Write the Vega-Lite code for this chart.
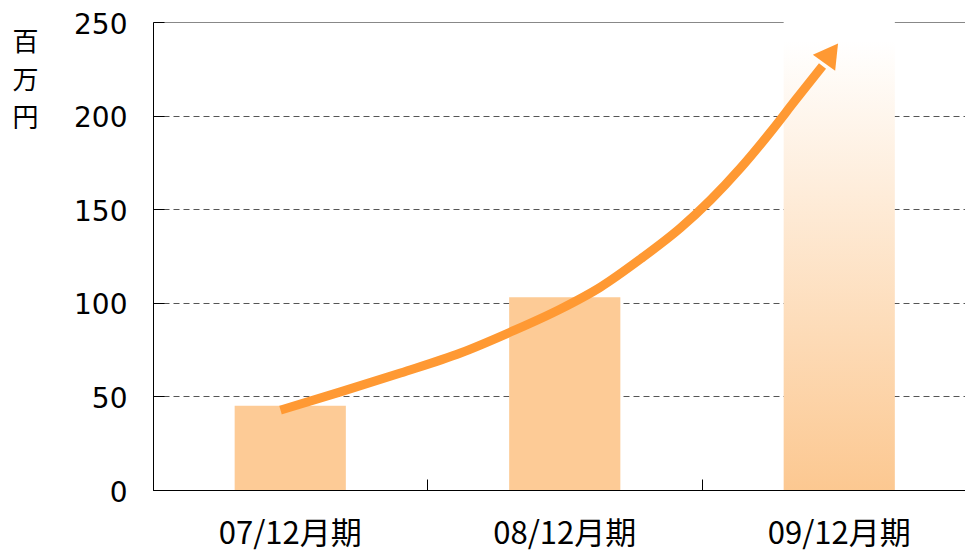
{
  "$schema": "https://vega.github.io/schema/vega-lite/v6.json",
  "width": 812,
  "height": 468,
  "autosize": "none",
  "padding": {"left": 153, "top": 22, "right": 0, "bottom": 61},
  "background": "white",
  "config": {"view": {"stroke": null}},
  "datasets": {
    "bars": [
      {"period": "07/12月期", "value": 45},
      {"period": "08/12月期", "value": 103},
      {"period": "09/12月期", "value": 250}
    ],
    "arrow": [
      {"pos": 0.4645, "value": 42.7},
      {"pos": 0.683, "value": 52.4},
      {"pos": 0.9016, "value": 62.5},
      {"pos": 1.1202, "value": 73.2},
      {"pos": 1.3024, "value": 84.4},
      {"pos": 1.4845, "value": 96.7},
      {"pos": 1.6302, "value": 108.4},
      {"pos": 1.776, "value": 123.4},
      {"pos": 1.9217, "value": 140.0},
      {"pos": 2.031, "value": 154.9},
      {"pos": 2.1403, "value": 172.0},
      {"pos": 2.2495, "value": 191.2},
      {"pos": 2.3406, "value": 208.3},
      {"pos": 2.439, "value": 226.5}
    ],
    "head": [{"pos": 2.47, "value": 233.4}]
  },
  "layer": [
    {
      "data": {"name": "bars"},
      "encoding": {
        "x": {
          "field": "period",
          "type": "nominal",
          "sort": null,
          "scale": {
            "domain": ["07/12月期", "08/12月期", "09/12月期"],
            "range": [0, 823.5],
            "paddingInner": 0,
            "paddingOuter": 0
          },
          "axis": {
            "title": null,
            "bandPosition": 0,
            "tickSize": -11,
            "tickColor": "black",
            "domainColor": "black",
            "grid": false,
            "labelFont": "Noto Sans CJK JP",
            "labelFontSize": 31,
            "labelColor": "black",
            "labelAngle": 0,
            "labelBaseline": "alphabetic",
            "labelPadding": 64
          }
        },
        "y": {
          "field": "value",
          "type": "quantitative",
          "scale": {"domain": [0, 250], "nice": false},
          "axis": {
            "values": [0, 50, 100, 150, 200, 250],
            "title": ["百", "万", "円"],
            "titleAngle": 0,
            "titleFont": "Noto Sans CJK JP",
            "titleFontSize": 26,
            "titleFontWeight": "normal",
            "titleColor": "black",
            "titleLineHeight": 38,
            "titleX": -128,
            "titleY": 20,
            "titleAlign": "center",
            "titleBaseline": "middle",
            "labelFont": "DejaVu Sans",
            "labelFontSize": 28,
            "labelColor": "black",
            "labelPadding": 37,
            "labelOffset": 3,
            "tickSize": -11,
            "tickColor": "black",
            "domainColor": "black",
            "grid": true,
            "gridWidth": 1,
            "gridDash": {"condition": {"test": "datum.value === 250", "value": []}, "value": [6, 4]},
            "gridColor": {"condition": {"test": "datum.value === 250", "value": "#888888"}, "value": "#555555"}
          }
        }
      },
      "layer": [
        {
          "transform": [{"filter": "datum.period !== '09/12月期'"}],
          "mark": {"type": "bar", "width": {"band": 0.405}, "color": "#FDCB96"}
        },
        {
          "transform": [{"filter": "datum.period === '09/12月期'"}],
          "mark": {
            "type": "bar",
            "width": {"band": 0.405},
            "color": {
              "gradient": "linear",
              "x1": 0, "y1": 0, "x2": 0, "y2": 1,
              "stops": [
                {"offset": 0, "color": "#FFFFFF"},
                {"offset": 0.04, "color": "#FFFFFF"},
                {"offset": 1, "color": "#FCC891"}
              ]
            }
          }
        }
      ]
    },
    {
      "layer": [
        {
          "data": {"name": "arrow"},
          "mark": {"type": "line", "color": "#FF9933", "strokeWidth": 9, "interpolate": "monotone", "strokeCap": "butt"},
          "encoding": {
            "x": {"field": "pos", "type": "quantitative", "scale": {"domain": [0, 3], "range": [0, 823.5]}, "axis": null},
            "y": {"field": "value", "type": "quantitative"}
          }
        },
        {
          "data": {"name": "head"},
          "mark": {"type": "point", "shape": "triangle-up", "filled": true, "size": 760, "angle": 36, "color": "#FF9933", "opacity": 1},
          "encoding": {
            "x": {"field": "pos", "type": "quantitative"},
            "y": {"field": "value", "type": "quantitative"}
          }
        }
      ]
    }
  ],
  "resolve": {"scale": {"x": "independent"}, "axis": {"x": "independent"}}
}
